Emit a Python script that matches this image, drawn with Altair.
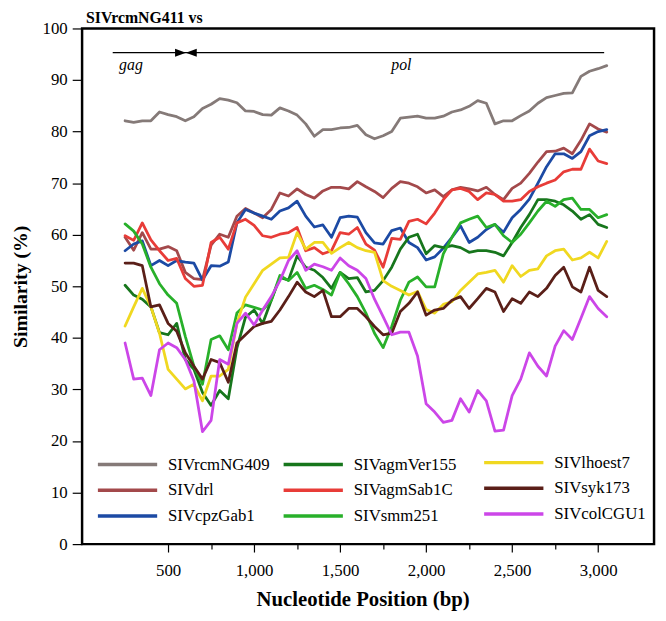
import altair as alt
import pandas as pd

# ---- data -------------------------------------------------------------
positions = list(range(250, 3051, 50))  # nucleotide position (bp), 57 windows

col1_names = ["SIVrcmNG409", "SIVdrl", "SIVcpzGab1"]
col1_colors = ["#857a78", "#a3494b", "#1c4aa4"]
col2_names = ["SIVagmVer155", "SIVagmSab1C", "SIVsmm251"]
col2_colors = ["#17761c", "#e83c38", "#28b02a"]
col3_names = ["SIVlhoest7", "SIVsyk173", "SIVcolCGU1"]
col3_colors = ["#f0d820", "#5a1f18", "#cc46e8"]

rcmNG409 = [82.1, 81.8, 82.1, 82.1, 83.8, 83.3, 82.9, 82.1, 82.9, 84.5,
            85.3, 86.4, 86.1, 85.6, 84.0, 83.9, 83.3, 83.2, 84.6, 84.0,
            83.2, 81.5, 79.1, 80.4, 80.4, 80.7, 80.8, 81.2, 79.4, 78.6,
            79.2, 80.0, 82.6, 82.8, 83.0, 82.6, 82.6, 83.0, 83.8, 84.2,
            84.9, 86.0, 85.5, 81.5, 82.1, 82.1, 83.1, 84.0, 85.5, 86.6,
            87.0, 87.4, 87.5, 90.7, 91.7, 92.2, 92.8]
drl = [59.5, 57.0, 60.4, 57.2, 57.2, 57.7, 56.9, 52.7, 51.5, 51.3,
       58.0, 60.1, 59.5, 63.6, 65.1, 64.2, 63.3, 64.9, 68.1, 67.5,
       68.9, 67.8, 67.1, 68.5, 69.2, 69.2, 68.9, 70.3, 69.3, 68.4,
       67.2, 69.0, 70.3, 70.0, 69.3, 68.1, 68.7, 67.4, 68.7, 69.2,
       68.9, 68.5, 69.2, 67.8, 66.8, 69.0, 70.0, 71.9, 74.1, 76.1,
       76.2, 76.8, 75.7, 78.3, 81.5, 80.5, 79.9]
cpzGab1 = [56.9, 58.2, 58.8, 54.0, 55.0, 54.0, 55.0, 54.7, 54.5, 51.2,
           54.0, 53.9, 54.7, 62.3, 64.9, 64.2, 63.6, 63.0, 64.6, 65.2,
           66.5, 63.6, 61.5, 61.9, 59.5, 63.3, 63.6, 63.4, 60.4, 58.4,
           58.2, 60.8, 61.3, 58.5, 57.5, 55.1, 55.7, 57.4, 59.5, 61.7,
           58.5, 59.5, 61.0, 62.0, 60.5, 63.3, 64.9, 66.9, 70.0, 73.2,
           75.7, 75.7, 74.8, 76.1, 79.2, 80.0, 80.4]
agmVer155 = [50.2, 48.3, 47.5, 46.0, 41.0, 40.6, 42.8, 35.8, 33.9, 29.4,
             26.9, 29.8, 28.2, 38.0, 44.0, 45.4, 42.8, 47.3, 51.7, 51.2,
             55.9, 53.7, 53.1, 51.7, 49.6, 52.7, 51.5, 51.7, 48.9, 49.2,
             51.1, 53.7, 57.2, 59.5, 60.1, 56.3, 57.9, 57.5, 57.9, 57.5,
             56.6, 56.9, 56.9, 56.6, 55.9, 58.5, 61.4, 63.9, 66.8, 66.8,
             66.5, 65.8, 64.6, 63.0, 63.9, 62.0, 61.4]
agmSab1C = [59.8, 58.9, 62.3, 59.0, 56.9, 55.0, 55.4, 51.5, 50.0, 50.2,
            58.5, 59.5, 57.2, 62.3, 63.0, 61.8, 59.8, 59.5, 60.1, 60.4,
            61.4, 56.9, 57.5, 56.3, 56.9, 60.4, 60.1, 61.4, 58.2, 57.0,
            53.7, 59.3, 59.1, 62.6, 63.0, 62.1, 64.2, 66.8, 68.7, 69.0,
            68.4, 66.8, 68.1, 67.8, 66.5, 66.5, 66.8, 68.4, 69.3, 70.0,
            70.6, 72.2, 72.7, 72.7, 76.6, 74.3, 73.8]
smm251 = [62.1, 60.7, 58.2, 53.7, 50.5, 48.3, 46.7, 40.3, 34.5, 31.0,
          39.7, 40.4, 37.7, 44.8, 46.4, 45.9, 45.4, 47.3, 52.1, 51.1,
          52.7, 49.6, 50.2, 49.4, 48.3, 52.7, 50.5, 48.0, 44.8, 40.9,
          38.1, 42.2, 47.3, 50.8, 51.8, 49.9, 49.9, 56.3, 59.5, 62.3,
          63.0, 63.6, 61.4, 62.0, 59.8, 58.5, 60.1, 62.3, 64.6, 66.5,
          65.5, 66.8, 67.1, 64.9, 64.9, 63.3, 63.9]
lhoest7 = [42.3, 46.0, 49.6, 46.0, 40.9, 33.9, 32.0, 30.1, 31.0, 27.8,
           32.6, 32.6, 33.9, 42.8, 47.9, 50.5, 53.1, 54.3, 55.5, 55.6,
           60.4, 57.2, 58.5, 58.5, 56.4, 57.5, 58.5, 57.5, 56.9, 56.6,
           51.1, 50.0, 49.2, 48.3, 49.0, 45.5, 44.8, 46.5, 47.0, 49.2,
           50.8, 52.4, 52.7, 53.1, 50.8, 54.0, 51.9, 53.1, 53.4, 55.9,
           56.9, 57.2, 55.1, 55.5, 56.6, 55.5, 58.7]
syk173 = [54.5, 54.5, 54.0, 46.0, 46.4, 42.8, 41.3, 37.1, 34.5, 32.0,
          35.8, 35.2, 31.4, 39.0, 40.6, 42.2, 42.8, 43.2, 45.4, 48.0,
          50.8, 48.9, 48.0, 49.2, 44.1, 44.1, 45.7, 45.7, 44.1, 42.2,
          40.6, 40.9, 45.1, 46.7, 48.9, 44.4, 45.4, 45.7, 47.3, 48.0,
          45.7, 47.6, 49.6, 48.9, 45.1, 47.6, 46.7, 48.9, 48.0, 49.6,
          52.1, 53.7, 49.9, 48.9, 53.7, 49.2, 48.0]
colCGU1 = [39.0, 32.0, 32.2, 28.8, 37.7, 39.0, 38.1, 35.8, 31.7, 21.8,
           24.0, 35.8, 34.9, 42.8, 44.8, 42.5, 45.4, 48.0, 51.1, 55.0,
           56.9, 53.1, 54.3, 53.8, 53.1, 55.5, 54.0, 53.1, 51.5, 47.5,
           44.1, 40.6, 41.1, 41.1, 36.5, 27.2, 25.6, 23.6, 24.0, 28.2,
           25.6, 29.8, 27.8, 21.9, 22.1, 28.8, 32.0, 37.1, 34.5, 32.6,
           38.4, 41.4, 39.7, 43.8, 48.0, 45.7, 44.1]

series = {
    "SIVrcmNG409": rcmNG409, "SIVdrl": drl, "SIVcpzGab1": cpzGab1,
    "SIVagmVer155": agmVer155, "SIVagmSab1C": agmSab1C, "SIVsmm251": smm251,
    "SIVlhoest7": lhoest7, "SIVsyk173": syk173, "SIVcolCGU1": colCGU1,
}

# gene map annotation (gag / pol)
gene_start = [178]
gene_end = [3035]
gene_level = [95.3]
junction_pos = [572, 635]
junction_dir = ["right", "left"]
gene_label_pos = [284, 1856]
gene_label_level = [92.0, 92.0]
gene_labels = ["gag", "pol"]

x_ticks = list(range(500, 3001, 125))
y_ticks = [i * 2.5 for i in range(41)]

# ---- chart ------------------------------------------------------------
FONT = "Liberation Serif"


def long_df(names):
    rows = []
    for n in names:
        for p, v in zip(positions, series[n]):
            rows.append({"pos": p, "sim": v, "series": n})
    return pd.DataFrame(rows)


x_enc = alt.X(
    "pos:Q",
    scale=alt.Scale(domain=[0, 3325], nice=False, zero=False),
    axis=alt.Axis(
        values=x_ticks,
        labelExpr="datum.value % 500 === 0 ? format(datum.value, ',') : ''",
        tickSize={"condition": {"test": "datum.value % 500 === 0", "value": 8}, "value": 5},
        labelPadding=11,
        labelOverlap=False,
        title="Nucleotide Position (bp)",
        titleX=284, titleY=56, titleBaseline="middle", titleAlign="center",
        titleFontSize=21,
    ),
)
y_enc = alt.Y(
    "sim:Q",
    scale=alt.Scale(domain=[0, 100], nice=False),
    axis=alt.Axis(
        values=y_ticks,
        labelExpr="datum.value % 10 === 0 ? datum.value : ''",
        tickSize={"condition": {"test": "datum.value % 10 === 0", "value": 10}, "value": 5},
        labelPadding=5,
        labelOverlap=False,
        title="Similarity (%)",
        titleAngle=-90, titleX=-62, titleY=261, titleBaseline="middle", titleAlign="center",
        titleFontSize=20,
    ),
)


def line_layer(names, colors, lx, ly):
    return alt.Chart(long_df(names)).mark_line(
        strokeWidth=2.8, strokeJoin="round", strokeCap="round"
    ).encode(
        x=x_enc,
        y=y_enc,
        color=alt.Color(
            "series:N",
            scale=alt.Scale(domain=names, range=colors),
            legend=alt.Legend(
                orient="none", legendX=lx, legendY=ly, title=None,
                direction="vertical", symbolType="stroke", symbolSize=3600,
                symbolStrokeWidth=3.5, labelFont=FONT, labelFontSize=17,
                labelColor="black", labelOffset=9, rowPadding=8, padding=0,
                clipHeight=17,
            ),
        ),
    )


lines1 = line_layer(col1_names, col1_colors, 14, 433)
lines2 = line_layer(col2_names, col2_colors, 202, 433)
lines3 = line_layer(col3_names, col3_colors, 405, 431)

gene_df = pd.DataFrame({"start": gene_start, "end": gene_end, "level": gene_level})
gene_rule = alt.Chart(gene_df).mark_rule(color="black", strokeWidth=1.2).encode(
    x=alt.X("start:Q"), x2="end:Q", y=alt.Y("level:Q")
)

junction_df = pd.DataFrame({"pos": junction_pos, "level": gene_level * 2, "dir": junction_dir})
junction = alt.Chart(junction_df).mark_point(filled=True, color="black", opacity=1, size=121).encode(
    x=alt.X("pos:Q"),
    y=alt.Y("level:Q"),
    shape=alt.Shape(
        "dir:N",
        scale=alt.Scale(domain=["right", "left"],
                        range=["M-1,-0.75L1,0L-1,0.75Z", "M1,-0.75L-1,0L1,0.75Z"]),
        legend=None,
    ),
)

label_df = pd.DataFrame({"pos": gene_label_pos, "level": gene_label_level, "label": gene_labels})
gene_text = alt.Chart(label_df).mark_text(
    font=FONT, fontSize=16, fontStyle="italic", color="black", align="center", baseline="alphabetic"
).encode(x=alt.X("pos:Q"), y=alt.Y("level:Q"), text="label:N")

chart = alt.layer(
    gene_rule, junction, gene_text, lines1, lines2, lines3
).resolve_scale(
    color="independent", shape="independent"
).properties(
    width=579,
    height=522,
    title=alt.TitleParams(
        "SIVrcmNG411 vs", anchor="start", frame="group", dx=4, dy=19.5, offset=0,
        baseline="alphabetic", font=FONT, fontSize=16, fontWeight="bold", color="black",
    ),
    autosize=alt.AutoSizeParams(type="none"),
    padding={"left": 75, "top": 17, "right": 4, "bottom": 66},
).configure_view(
    stroke="black", strokeWidth=2.5
).configure_axis(
    domain=False, grid=False, tickColor="black", tickWidth=1.2,
    labelFont=FONT, labelFontSize=17, labelColor="black",
    titleFont=FONT, titleFontSize=19, titleFontWeight="bold", titleColor="black",
)

chart.save("out.html", embed_options={"renderer": "svg", "actions": False})
